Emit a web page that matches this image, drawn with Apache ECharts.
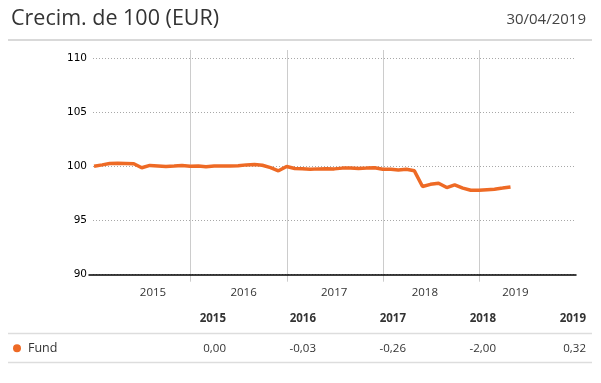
<!DOCTYPE html>
<html>
<head>
<meta charset="utf-8">
<script src="https://cdn.jsdelivr.net/npm/echarts@6/dist/echarts.min.js"></script>
<style>
html,body{margin:0;padding:0;background:#fff;}
#chart{width:601px;height:383px;}
</style>
</head>
<body>
<div id="chart"></div>
<script>
// ---- data ----
const titleText = 'Crecim. de 100 (EUR)';
const dateText = '30/04/2019';
const seriesName = 'Fund';
const dates = [
  '2014-12-31',
  '2015-01-31','2015-02-28','2015-03-31','2015-04-30','2015-05-31','2015-06-30',
  '2015-07-31','2015-08-31','2015-09-30','2015-10-31','2015-11-30','2015-12-31',
  '2016-01-31','2016-02-29','2016-03-31','2016-04-30','2016-05-31','2016-06-30',
  '2016-07-31','2016-08-31','2016-09-30','2016-10-31','2016-11-30','2016-12-31',
  '2017-01-31','2017-02-28','2017-03-31','2017-04-30','2017-05-31','2017-06-30',
  '2017-07-31','2017-08-31','2017-09-30','2017-10-31','2017-11-30','2017-12-31',
  '2018-01-31','2018-02-28','2018-03-31','2018-04-30','2018-05-31','2018-06-30',
  '2018-07-31','2018-08-31','2018-09-30','2018-10-31','2018-11-30','2018-12-31',
  '2019-01-31','2019-02-28','2019-03-31','2019-04-30'
];
const values = [
  100.03,
  100.15,100.28,100.30,100.28,100.25,99.88,
  100.10,100.05,100.00,100.05,100.10,100.03,
  100.05,99.98,100.05,100.05,100.05,100.08,
  100.15,100.18,100.12,99.90,99.60,100.00,
  99.82,99.80,99.75,99.78,99.80,99.78,
  99.85,99.85,99.82,99.85,99.88,99.74,
  99.75,99.68,99.75,99.60,98.15,98.35,
  98.45,98.05,98.30,98.00,97.80,97.79,
  97.85,97.90,98.00,98.10
];
const yearLabels = ['2015','2016','2017','2018','2019'];
const yearBounds = ['2015','2016','2017','2018','2019','2020'];
const yTicks = {min: 90, max: 110, interval: 5};
const tableYears = ['2015','2016','2017','2018','2019'];
const tableValues = ['0,00','-0,03','-0,26','-2,00','0,32'];

// ---- chart ----
const lineColor = '#ee6a25';
const textColor = '#333333';
const colRight = [226, 316, 406, 496, 586];

const graphics = [
  {type:'text', left: 11, top: 8, style:{text: titleText, font: '21.5px "Open Sans"', fill: '#333'}},
  {type:'text', right: 15, top: 12, style:{text: dateText, font: '15px "Open Sans"', fill: '#444'}},
  {type:'line', shape:{x1:8, y1:40, x2:592, y2:40}, style:{stroke:'#cccccc', lineWidth:1.5}},
  {type:'line', shape:{x1:8, y1:333.5, x2:592, y2:333.5}, style:{stroke:'#dddddd', lineWidth:1.5}},
  {type:'line', shape:{x1:8, y1:362.5, x2:592, y2:362.5}, style:{stroke:'#dddddd', lineWidth:1.5}},
  {type:'circle', shape:{cx:17, cy:348.3, r:4}, style:{fill: lineColor}},
  {type:'text', x: 28, y: 348.3, style:{text: seriesName, font: '12.5px "Open Sans"', fill: textColor, textVerticalAlign:'middle'}}
];
tableYears.forEach((y, i) => {
  graphics.push({type:'text', x: colRight[i], y: 319, style:{text: y, font: 'bold 11.5px "Open Sans"', fill: textColor, textAlign:'right', textVerticalAlign:'middle'}});
});
tableValues.forEach((v, i) => {
  graphics.push({type:'text', x: colRight[i], y: 348.3, style:{text: v, font: '11.5px "Open Sans"', fill: textColor, textAlign:'right', textVerticalAlign:'middle'}});
});

const chart = echarts.init(document.getElementById('chart'), null, {renderer:'canvas'});
chart.setOption({
  animation: false,
  backgroundColor: '#fff',
  grid: [
    {left: 93, width: 481, top: 58.5, height: 216},     // data
    {left: 94.5, width: 481, top: 50, height: 231.7},   // year separators
    {left: 107.7, width: 453, top: 58.5, height: 216},  // year labels
    {left: 89, width: 487, top: 58.5, height: 216}      // axis line
  ],
  xAxis: [
    {type:'time', gridIndex:0, min:'2014-12-27', max:'2019-12-27', show:false},
    {type:'category', gridIndex:1, data: yearBounds, boundaryGap:false,
     axisLine:{show:false}, axisTick:{show:false}, axisLabel:{show:false},
     splitLine:{show:true, interval: (i) => i > 0 && i < yearBounds.length - 1, lineStyle:{color:'#cccccc', width:1}}},
    {type:'category', gridIndex:2, data: yearLabels, boundaryGap:true,
     axisLine:{show:false}, axisTick:{show:false}, splitLine:{show:false},
     axisLabel:{color: textColor, fontFamily:'Open Sans', fontSize:11.5, margin:12}},
    {type:'value', gridIndex:3, min:0, max:1, axisLine:{show:true, lineStyle:{color:'#000', width:1.5}},
     axisTick:{show:false}, axisLabel:{show:false}, splitLine:{show:false}}
  ],
  yAxis: [
    {type:'value', gridIndex:0, min: yTicks.min, max: yTicks.max, interval: yTicks.interval,
     axisLine:{show:false}, axisTick:{show:false},
     axisLabel:{color:'#000', fontFamily:'DejaVu Sans', fontSize:10.5, margin:6},
     splitLine:{show:true, lineStyle:{color:'#a8a8a8', type:[1,2], width:1}}},
    {type:'value', gridIndex:1, show:false},
    {type:'value', gridIndex:2, show:false},
    {type:'value', gridIndex:3, show:false}
  ],
  series: [{
    name: seriesName,
    type: 'line',
    xAxisIndex: 0, yAxisIndex: 0,
    data: dates.map((d, i) => [d, values[i]]),
    showSymbol: false,
    lineStyle: {color: lineColor, width: 3.5},
    itemStyle: {color: lineColor},
    z: 5
  }],
  graphic: graphics
});
</script>
</body>
</html>
